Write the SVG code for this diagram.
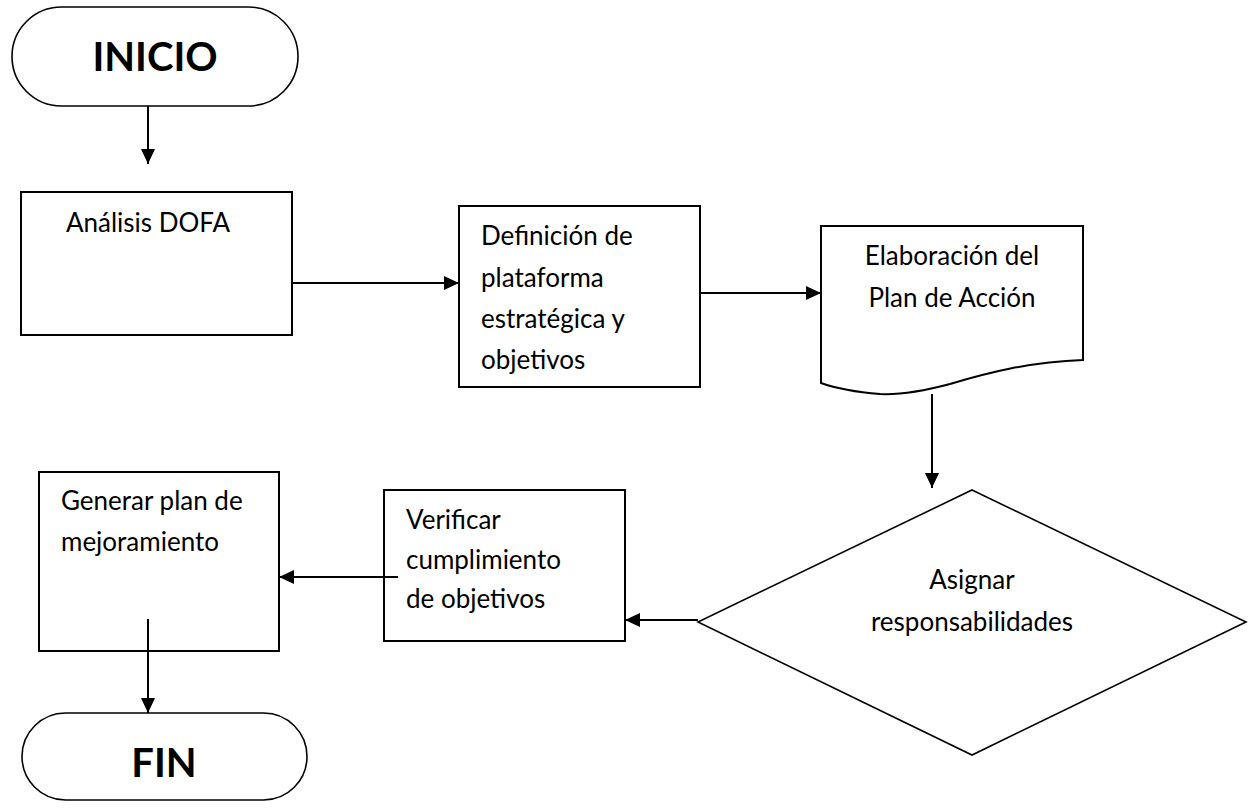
<svg xmlns="http://www.w3.org/2000/svg" width="1249" height="810" viewBox="0 0 1249 810">
<style>
.shape{fill:#fff;stroke:#000;stroke-width:2}
.thin{fill:#fff;stroke:#000;stroke-width:1.6}
.t{font-family:Lato,"Open Sans","Liberation Sans",sans-serif;font-size:26px;fill:#000}
.b{font-family:Lato,"Open Sans","Liberation Sans",sans-serif;font-size:40px;font-weight:bold;fill:#000}
.c{text-anchor:middle}
.conn{stroke:#000;stroke-width:2;fill:none;marker-end:url(#ah)}
</style>
<defs>
<marker id="ah" markerUnits="userSpaceOnUse" markerWidth="16" markerHeight="16" refX="15" refY="7" orient="auto">
<path d="M0,0 L15,7 L0,14 z" fill="#000"/>
</marker>
</defs>
<g id="inicio">
<rect class="thin" x="12" y="7" width="286" height="99" rx="49.5" ry="49.5"/>
<text class="b c" x="155" y="71">INICIO</text>
</g>
<g id="dofa">
<rect class="shape" x="21" y="192" width="271" height="143"/>
<text class="t c" x="148" y="232">Análisis DOFA</text>
</g>
<g id="definicion">
<rect class="shape" x="459" y="206" width="241" height="181"/>
<text class="t" x="481" y="245">Definición de</text>
<text class="t" x="481" y="287">plataforma</text>
<text class="t" x="481" y="328">estratégica y</text>
<text class="t" x="481" y="369">objetivos</text>
</g>
<g id="elaboracion">
<path class="shape" d="M821,226 H1083 V360 C1030,362 990,372 950,384 C920,392 900,395 880,394 C855,392 835,388 821,383 Z"/>
<text class="t c" x="952" y="265">Elaboración del</text>
<text class="t c" x="952" y="307">Plan de Acción</text>
</g>
<g id="asignar">
<path class="thin" d="M972,490 L1246,622 L972,755 L698,622 Z"/>
<text class="t c" x="972" y="589">Asignar</text>
<text class="t c" x="972" y="631">responsabilidades</text>
</g>
<g id="verificar">
<rect class="shape" x="384" y="490" width="241" height="151"/>
<text class="t" x="406" y="529">Verificar</text>
<text class="t" x="406" y="569">cumplimiento</text>
<text class="t" x="406" y="608">de objetivos</text>
</g>
<g id="generar">
<rect class="shape" x="39" y="472" width="240" height="179"/>
<text class="t" x="61" y="510">Generar plan de</text>
<text class="t" x="61" y="551">mejoramiento</text>
</g>
<g id="fin">
<rect class="thin" x="22" y="713" width="285" height="87" rx="43.5" ry="43.5"/>
<text class="b c" x="164" y="777">FIN</text>
</g>
<g id="connectors">
<line class="conn" x1="148" y1="106" x2="148" y2="164"/>
<line class="conn" x1="292" y1="283" x2="459" y2="283"/>
<line class="conn" x1="700" y1="293" x2="821" y2="293"/>
<line class="conn" x1="932" y1="394" x2="932" y2="488"/>
<line class="conn" x1="698" y1="620" x2="625" y2="620"/>
<line class="conn" x1="398" y1="577" x2="279" y2="577"/>
<line class="conn" x1="148" y1="619" x2="148" y2="713"/>
</g>
</svg>
